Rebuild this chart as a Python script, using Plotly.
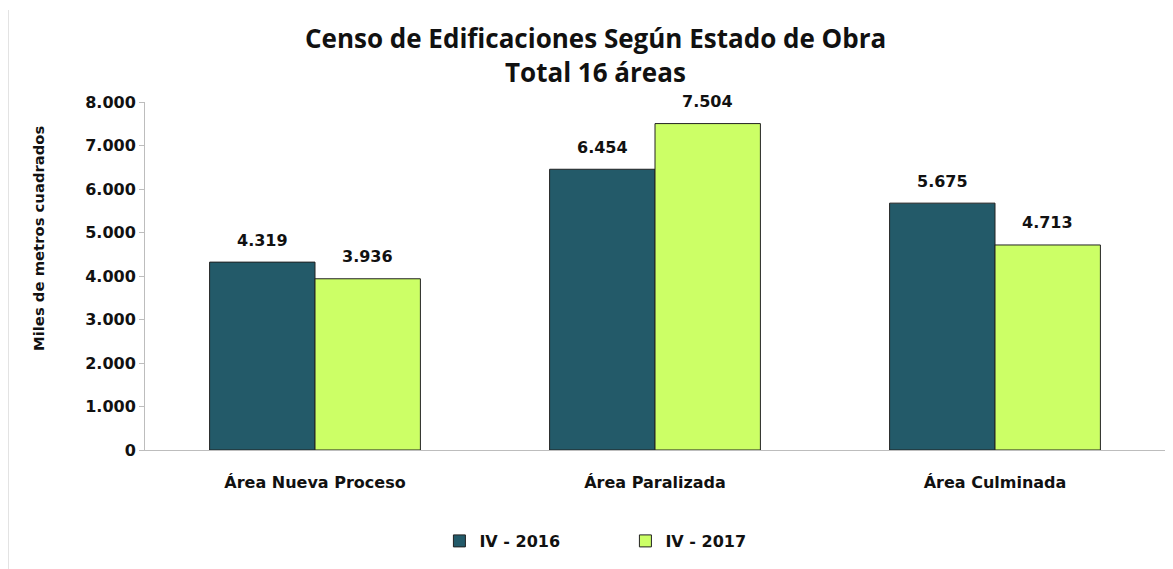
import plotly.graph_objects as go

categories = ["Área Nueva Proceso", "Área Paralizada", "Área Culminada"]
series_names = ["IV - 2016", "IV - 2017"]
values_2016 = [4319, 6454, 5675]
values_2017 = [3936, 7504, 4713]
colors = ["#235A69", "#CCFF66"]
y_ticks = list(range(0, 8001, 1000))

PLOT_H = 348.0
PLOT_W = 1020.0

fig = go.Figure()
for name, vals, col in zip(series_names, [values_2016, values_2017], colors):
    fig.add_trace(go.Bar(
        x=categories, y=vals, name="<b>%s</b>" % name,
        marker=dict(color=col, line=dict(color="#222222", width=1)),
    ))

# value labels placed from the data values
for shift, vals in zip([-52.7, 52.7], [values_2016, values_2017]):
    for c, v in zip(categories, vals):
        fig.add_annotation(x=c, y=v, xref="x", yref="y", xshift=shift, yshift=22,
                           text="<b>%s</b>" % f"{v:,}".replace(",", "."), showarrow=False,
                           font=dict(family="DejaVu Sans", size=16, color="#111"))

fig.update_layout(
    width=1165, height=561,
    separators=",.",
    barmode="group", bargap=0.38, bargroupgap=0,
    plot_bgcolor="white", paper_bgcolor="white",
    margin=dict(l=137, r=8, t=94, b=119, autoexpand=False),
    legend=dict(orientation="h", x=0.471, xanchor="center", y=-91 / PLOT_H, yanchor="middle",
                font=dict(family="DejaVu Sans", size=16, color="#111"),
                itemwidth=30, traceorder="normal", entrywidth=141),
    font=dict(family="DejaVu Sans", color="#111"),
    showlegend=True,
)
fig.add_annotation(text="<b>Censo de Edificaciones Según Estado de Obra</b>",
                   xref="paper", yref="paper", x=0.442, y=1 + 64 / PLOT_H, yanchor="middle",
                   showarrow=False, font=dict(family="Open Sans", size=26, color="#111"))
fig.add_annotation(text="<b>Total 16 áreas</b>",
                   xref="paper", yref="paper", x=0.442, y=1 + 30 / PLOT_H, yanchor="middle",
                   showarrow=False, font=dict(family="Open Sans", size=26, color="#111"))
fig.add_annotation(text="<b>Miles de metros cuadrados</b>", textangle=-90,
                   xref="paper", yref="paper", x=(38 - 145) / PLOT_W, y=(450 - 238) / PLOT_H,
                   xanchor="center", yanchor="middle", showarrow=False,
                   font=dict(family="DejaVu Sans", size=14.8, color="#111"))
fig.update_yaxes(range=[0, 8000], automargin=False,
                 tickmode="array", tickvals=y_ticks,
                 ticktext=["<b>%s</b>" % ("0" if v == 0 else f"{v:,}".replace(",", ".")) for v in y_ticks],
                 showgrid=False, showline=True, linecolor="#bdbdbd", linewidth=1,
                 ticks="outside", ticklen=5, tickcolor="#bdbdbd",
                 tickfont=dict(family="DejaVu Sans", size=16, color="#111"))
fig.update_xaxes(automargin=False, tickmode="array", tickvals=categories,
                 ticktext=["<b>%s</b>" % c for c in categories],
                 showline=True, linecolor="#bdbdbd", linewidth=1, showgrid=False,
                 ticks="outside", ticklen=18, tickcolor="rgba(0,0,0,0)",
                 tickfont=dict(family="DejaVu Sans", size=16, color="#111"))
fig.add_shape(type="line", xref="paper", yref="paper", x0=-0.1338, x1=-0.1338,
              y0=-119 / PLOT_H, y1=1 + 92 / PLOT_H,
              line=dict(color="#e3e3e3", width=1))
fig.write_html("out.html")
